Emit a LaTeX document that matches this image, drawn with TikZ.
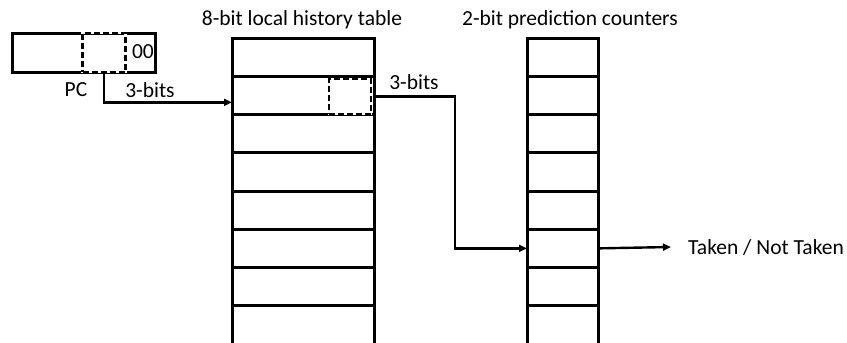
\documentclass[tikz,border=0pt]{standalone}
\usepackage{fontspec}
\setmainfont{Carlito}
\usetikzlibrary{arrows.meta,positioning}
\begin{document}
\begin{tikzpicture}[x=1pt,y=-1pt,
  cell/.style={draw,rectangle,line width=3pt,minimum height=38.25pt,inner sep=0pt,outer sep=0pt},
  hcell/.style={cell,minimum width=142pt},
  ccell/.style={cell,minimum width=71pt},
  dbox/.style={draw,line width=2.6pt,dash pattern=on 6pt off 3pt,rectangle,inner sep=0pt,outer sep=0pt,
    preaction={draw=white,solid}},
  lbl/.style={font=\fontsize{21.5}{24}\selectfont,inner sep=0pt},
  arr/.style={-{Triangle[length=8pt,width=7pt]},line width=2.4pt}]
\useasboundingbox (0,0) rectangle (847,343);

% program counter register
\node[cell,minimum width=143pt,minimum height=39pt] (pc) at (83.5,52.5) {};
\node[dbox,minimum width=43pt,minimum height=39pt] (sel) at (104,52.5) {};
\node[lbl,anchor=east] (lo) at (154,52) {00};
\node[lbl] (pclbl) at (76,90) {PC};
\node[lbl] (b1) at (150,90) {3-bits};

% local history table
\foreach \i in {1,...,8}
  \node[hcell] (h\i) at (303,{38+38.25*(\i-0.5)}) {};
\node[dbox,minimum width=42pt,minimum height=35pt] (hsel) at (350,96.5) {};
\node[lbl] (htitle) at (302,20) {8-bit local history table};

% prediction counters
\foreach \i in {1,...,8}
  \node[ccell] (c\i) at (562.5,{38+38.25*(\i-0.5)}) {};
\node[lbl] (ctitle) at (570,20) {2-bit prediction counters};

% index paths
\draw[arr] (sel.south) |- ([yshift=-7pt]h2.west);
\draw[arr] (h2.east |- hsel.east) -- ++(81,0) |- (c6.west);
\node[lbl] (b2) at (414,82) {3-bits};

% prediction output
\node[lbl,anchor=west] (out) at (688,247) {Taken / Not Taken};
\draw[arr] (c6.east) -- ([xshift=-17pt]out.west);
\end{tikzpicture}
\end{document}
